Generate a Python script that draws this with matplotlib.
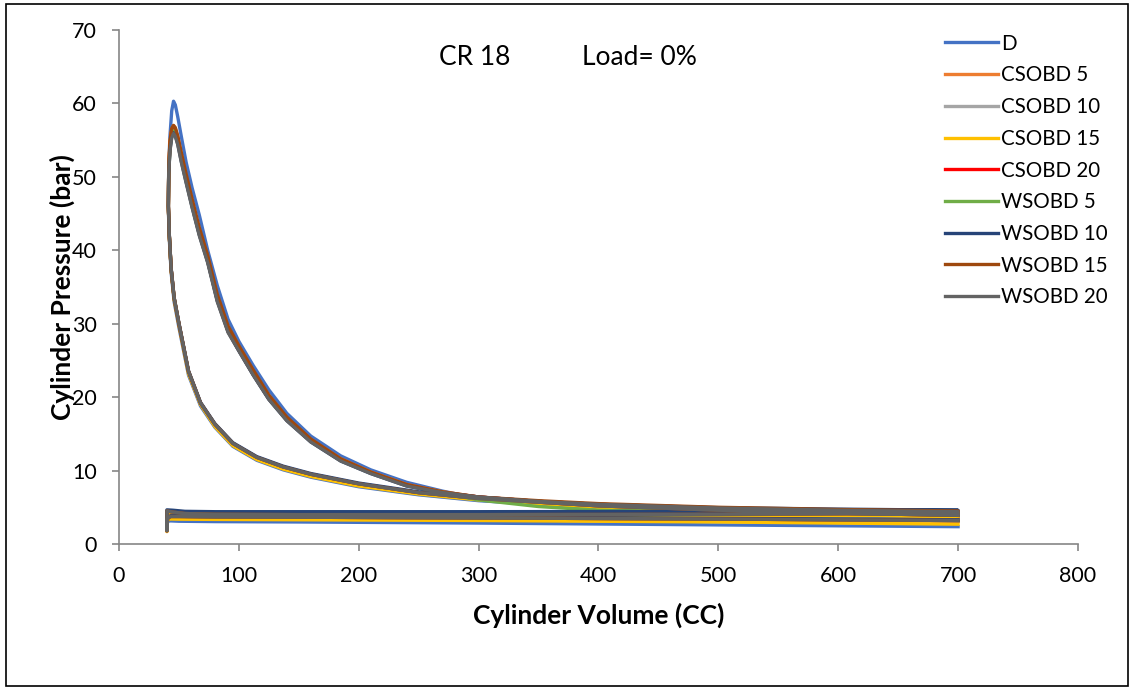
import matplotlib.pyplot as plt
from matplotlib.patches import Rectangle

plt.rcParams['font.family'] = ['Lato', 'DejaVu Sans']

# Volume path of one cycle: compression, combustion/expansion, exhaust, intake
vol_comp = [700, 600, 500, 400, 300, 250, 200, 160, 137, 115, 95, 80, 68, 58, 50, 46, 43.5, 42, 41.2]
vol_exp = [41.5, 42.5, 44, 45.5, 47, 49, 52, 56, 61, 67, 74, 82, 91, 100, 112, 125, 140, 160,
           185, 210, 240, 270, 300, 350, 400, 500, 600, 700]
vol_exh = [700, 500, 300, 150, 80, 55, 45, 40]
vol_int = [40, 40.5, 43, 50, 80, 150, 300, 500, 700]
vol_cycle = vol_comp + vol_exp + vol_exh + vol_int

# Cylinder pressure (bar) along vol_cycle
p_d = [3.6, 3.9, 4.3, 4.9, 5.9, 6.7, 7.8, 9.1, 10.1, 11.4, 13.3, 15.9, 18.8, 23.0, 29.5, 33.0, 37.0, 41.5, 45.5,
       51.5, 55.5, 59.0, 60.3, 59.8, 58.2, 55.5, 52.0, 48.5, 44.8, 40.0, 35.2, 30.6, 27.6, 24.3, 21.0, 17.8, 14.7,
       12.0, 10.1, 8.4, 7.2, 6.2, 5.4, 4.8, 4.2, 3.9, 3.7,
       3.8, 3.6, 3.55, 3.55, 3.6, 3.7, 3.9, 4.1,
       2.0, 3.1, 3.15, 3.1, 3.05, 3.0, 2.85, 2.6, 2.36]
p_csobd5 = [3.8, 4.1, 4.5, 5.1, 6.1, 6.9, 8.1, 9.4, 10.4, 11.7, 13.6, 16.2, 19.1, 23.4, 29.9, 33.4, 37.4, 41.9, 45.9,
            50.8, 54.6, 56.5, 57.0, 56.6, 55.4, 53.0, 50.0, 46.5, 42.6, 38.8, 33.5, 29.2, 26.6, 23.3, 20.0, 17.1, 14.2,
            11.6, 9.8, 8.1, 7.1, 6.4, 5.8, 5.4, 4.9, 4.6, 4.4,
            4.1, 3.95, 3.9, 3.9, 3.95, 4.05, 4.25, 4.4,
            1.7, 3.4, 3.6, 3.6, 3.55, 3.5, 3.4, 3.25, 3.1]
p_csobd10 = [3.9, 4.2, 4.6, 5.2, 6.2, 7.0, 8.2, 9.5, 10.5, 11.8, 13.7, 16.3, 19.2, 23.5, 30.0, 33.5, 37.5, 42.0, 46.0,
             50.6, 54.0, 56.0, 56.5, 56.1, 55.0, 52.6, 49.6, 46.1, 42.2, 38.5, 33.2, 29.0, 26.4, 23.1, 19.8, 16.9, 14.0,
             11.4, 9.7, 8.0, 7.0, 6.4, 5.8, 5.4, 4.9, 4.6, 4.4,
             4.15, 4.0, 3.95, 3.95, 4.0, 4.1, 4.3, 4.45,
             1.8, 3.45, 3.7, 3.7, 3.65, 3.6, 3.5, 3.35, 3.15]
p_csobd15 = [3.7, 4.0, 4.4, 5.0, 6.0, 6.8, 7.9, 9.2, 10.2, 11.5, 13.4, 16.0, 19.0, 23.2, 29.8, 33.3, 37.3, 41.8, 45.8,
             51.0, 54.5, 56.3, 56.8, 56.4, 55.2, 52.8, 49.8, 46.3, 42.4, 38.6, 33.3, 29.0, 26.4, 23.1, 19.8, 16.9, 14.0,
             11.4, 9.7, 8.0, 7.0, 6.3, 5.6, 5.1, 4.6, 4.45, 4.3,
             3.9, 3.75, 3.7, 3.7, 3.75, 3.85, 4.05, 4.25,
             1.7, 3.3, 3.4, 3.38, 3.35, 3.3, 3.2, 3.0, 2.7]
p_csobd20 = [3.9, 4.2, 4.6, 5.2, 6.2, 7.0, 8.2, 9.5, 10.5, 11.8, 13.7, 16.3, 19.2, 23.5, 30.0, 33.5, 37.5, 42.0, 46.0,
             50.7, 54.3, 56.3, 56.8, 56.4, 55.2, 52.8, 49.8, 46.3, 42.4, 38.6, 33.3, 29.0, 26.4, 23.1, 19.8, 16.9, 14.0,
             11.4, 9.7, 8.0, 7.0, 6.4, 5.8, 5.4, 4.9, 4.6, 4.4,
             4.2, 4.05, 4.0, 4.0, 4.05, 4.15, 4.35, 4.5,
             1.8, 3.5, 3.75, 3.75, 3.7, 3.65, 3.55, 3.4, 3.2]
p_wsobd5 = [3.9, 4.2, 4.6, 5.2, 6.2, 7.0, 8.2, 9.5, 10.5, 11.8, 13.7, 16.3, 19.2, 23.5, 30.0, 33.5, 37.5, 42.0, 46.0,
            50.5, 53.8, 55.8, 56.3, 55.9, 54.8, 52.4, 49.5, 46.1, 42.3, 38.6, 33.4, 29.2, 26.6, 23.3, 20.0, 17.0, 14.1,
            11.4, 9.7, 8.0, 6.9, 6.0, 5.1, 4.6, 4.3, 4.2, 4.1,
            4.2, 4.05, 4.0, 4.0, 4.05, 4.15, 4.35, 4.5,
            1.8, 3.5, 3.75, 3.75, 3.7, 3.65, 3.55, 3.4, 3.2]
p_wsobd10 = [4.0, 4.3, 4.7, 5.3, 6.3, 7.1, 8.3, 9.6, 10.6, 11.9, 13.8, 16.4, 19.3, 23.6, 30.1, 33.6, 37.6, 42.1, 46.1,
             50.5, 53.6, 55.5, 56.0, 55.6, 54.5, 52.1, 49.3, 45.9, 42.1, 38.4, 33.1, 28.9, 26.3, 23.0, 19.7, 16.8, 13.9,
             11.3, 9.6, 7.9, 7.0, 6.4, 5.8, 5.4, 4.95, 4.75, 4.6,
             4.6, 4.45, 4.4, 4.4, 4.4, 4.45, 4.6, 4.65,
             1.9, 3.6, 3.85, 3.85, 3.8, 3.75, 3.65, 3.5, 3.3]
p_wsobd15 = [3.9, 4.2, 4.6, 5.2, 6.2, 7.0, 8.2, 9.5, 10.5, 11.8, 13.7, 16.3, 19.2, 23.5, 30.0, 33.5, 37.5, 42.0, 46.0,
             51.0, 54.8, 56.6, 57.0, 56.7, 55.6, 53.3, 50.4, 47.0, 43.1, 39.3, 34.0, 29.7, 27.0, 23.7, 20.3, 17.3, 14.3,
             11.6, 9.8, 8.1, 7.1, 6.4, 5.9, 5.5, 5.0, 4.7, 4.5,
             4.2, 4.05, 4.0, 4.0, 4.05, 4.15, 4.35, 4.5,
             1.8, 3.5, 3.75, 3.75, 3.7, 3.65, 3.55, 3.4, 3.2]
p_wsobd20 = [3.9, 4.2, 4.6, 5.2, 6.2, 7.0, 8.2, 9.5, 10.5, 11.8, 13.7, 16.3, 19.2, 23.5, 30.0, 33.5, 37.5, 42.0, 46.0,
             50.5, 53.5, 55.3, 55.9, 55.5, 54.4, 52.0, 49.2, 45.8, 42.0, 38.3, 33.0, 28.8, 26.3, 23.0, 19.7, 16.8, 13.9,
             11.3, 9.6, 7.9, 7.0, 6.4, 5.8, 5.4, 4.9, 4.6, 4.4,
             4.2, 4.05, 4.0, 4.0, 4.05, 4.15, 4.35, 4.5,
             1.8, 3.5, 3.75, 3.75, 3.7, 3.65, 3.55, 3.4, 3.2]

labels = ['D', 'CSOBD 5', 'CSOBD 10', 'CSOBD 15', 'CSOBD 20', 'WSOBD 5', 'WSOBD 10', 'WSOBD 15', 'WSOBD 20']
series = [p_d, p_csobd5, p_csobd10, p_csobd15, p_csobd20, p_wsobd5, p_wsobd10, p_wsobd15, p_wsobd20]
colors = ['#4472C4', '#ED7D31', '#A5A5A5', '#FFC000', '#FF0000', '#70AD47', '#264478', '#9E480E', '#636363']

fig = plt.figure(figsize=(11.31, 6.88), dpi=100)
ax = fig.add_axes([0.1052, 0.2093, 0.8479, 0.7471])

for p, lab, col in zip(series, labels, colors):
    ax.plot(vol_cycle, p, color=col, lw=2.4, label=lab, solid_joinstyle='round')

ax.set_xlim(0, 800)
ax.set_ylim(0, 70)
ax.set_xticks(range(0, 801, 100))
ax.set_yticks(range(0, 71, 10))
ax.tick_params(labelsize=15.5, length=5, width=1.2, color='#868686', direction='out')
ax.tick_params(axis='x', pad=11)
ax.tick_params(axis='y', pad=11)
for side in ['top', 'right']:
    ax.spines[side].set_visible(False)
for side in ['left', 'bottom']:
    ax.spines[side].set_color('#868686')
    ax.spines[side].set_linewidth(1.2)

# Excel-style: the axis title sits over the tick labels
ax.set_xlabel('Cylinder Volume (CC)', fontsize=19, fontweight='bold', labelpad=12)
ax.set_ylabel('Cylinder Pressure (bar)', fontsize=19, fontweight='bold')
ax.yaxis.set_label_coords(-0.046, 0.5)

ax.text(297, 66.3, 'CR 18', fontsize=19, ha='center', va='center')
ax.text(434, 66.3, 'Load= 0%', fontsize=19, ha='center', va='center')

ax.legend(loc='upper left', bbox_to_anchor=(0.819, 0.978), bbox_transform=fig.transFigure,
          frameon=False, fontsize=14.8, handlelength=2.6, handletextpad=0.12, labelspacing=0.57)

fig.patches.append(Rectangle((0.005, 0.003), 0.992, 0.991, transform=fig.transFigure,
                             fill=False, edgecolor='black', lw=1.2))

fig.savefig('out.png', dpi=100)
